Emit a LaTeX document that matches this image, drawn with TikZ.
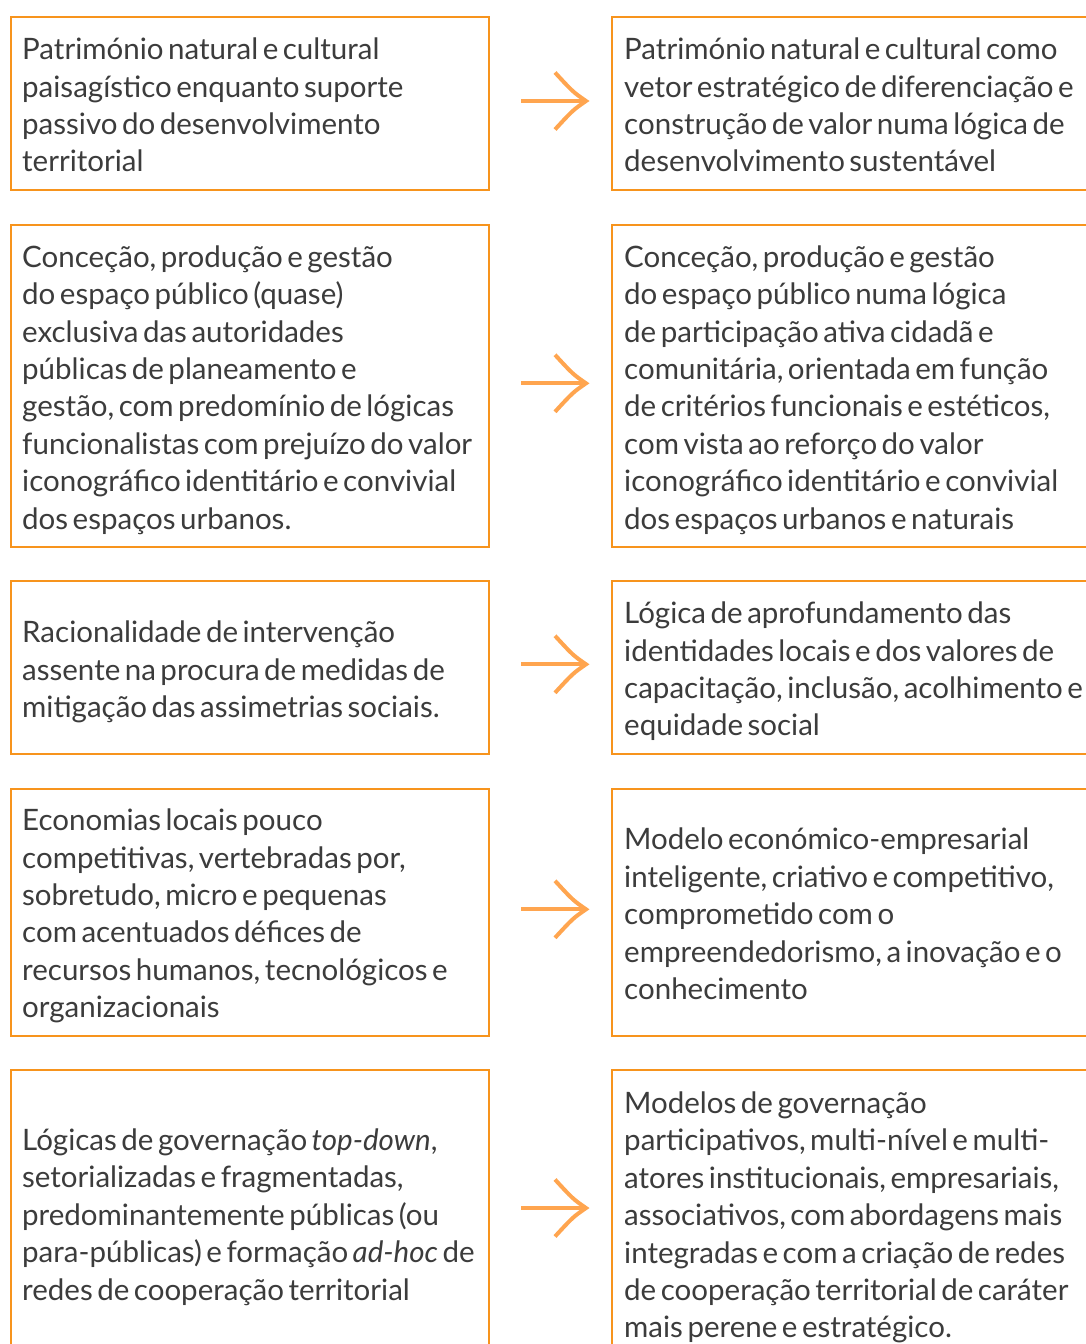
\documentclass[tikz,border=0pt]{standalone}
\usepackage{fontspec}
\setmainfont{Lato}[WordSpace=0.6]
\usetikzlibrary{calc}
\definecolor{frameorange}{HTML}{F7941D}
\definecolor{arroworange}{HTML}{FFA54F}
\definecolor{bodytext}{HTML}{3C3C3C}
\begin{document}
\begin{tikzpicture}[x=1pt,y=-1pt,
  box/.style={draw=frameorange, line width=2pt, rectangle, inner sep=0pt, outer sep=0pt, anchor=north west},
  txt/.style={anchor=west, align=left, inner sep=0pt, text=bodytext,
    font=\fontsize{29.5}{37.4}\selectfont},
  arrowline/.style={draw=arroworange, line width=4pt},
  barbs/.pic={\draw[arrowline] (-31,-28.5) .. controls (-13,-9) .. (0,0) .. controls (-13,9) .. (-31,28.5);}
]
\clip (0,0) rectangle (1086,1344);
\fill[white] (0,0) rectangle (1086,1344);

% boxes of the left and right columns
\node[box, minimum width=478pt, minimum height=173pt] (l1) at (11,17) {};
\node[box, minimum width=500pt, minimum height=173pt] (r1) at (612,17) {};
\node[box, minimum width=478pt, minimum height=322pt] (l2) at (11,225) {};
\node[box, minimum width=500pt, minimum height=322pt] (r2) at (612,225) {};
\node[box, minimum width=478pt, minimum height=173pt] (l3) at (11,581) {};
\node[box, minimum width=500pt, minimum height=173pt] (r3) at (612,581) {};
\node[box, minimum width=478pt, minimum height=247pt] (l4) at (11,789) {};
\node[box, minimum width=500pt, minimum height=247pt] (r4) at (612,789) {};
\node[box, minimum width=478pt, minimum height=290pt] (l5) at (11,1070) {};
\node[box, minimum width=500pt, minimum height=290pt] (r5) at (612,1070) {};

% texts
\node[txt] (t1l) at (22,105) {Património natural e cultural\\paisagístico enquanto suporte\\passivo do desenvolvimento\\territorial};
\node[txt] (t1r) at (624,105) {Património natural e cultural como\\vetor estratégico de diferenciação e\\construção de valor numa lógica de\\desenvolvimento sustentável};

\node[txt] (t2l) at (22,390) {Conceção, produção e gestão\\do espaço público (quase)\\exclusiva das autoridades\\públicas de planeamento e\\gestão, com predomínio de lógicas\\funcionalistas com prejuízo do valor\\iconográfico identitário e convivial\\dos espaços urbanos.};
\node[txt] (t2r) at (624,390) {Conceção, produção e gestão\\do espaço público numa lógica\\de participação ativa cidadã e\\comunitária, orientada em função\\de critérios funcionais e estéticos,\\com vista ao reforço do valor\\iconográfico identitário e convivial\\dos espaços urbanos e naturais};

\node[txt] (t3l) at (22,672) {Racionalidade de intervenção\\assente na procura de medidas de\\mitigação das assimetrias sociais.};
\node[txt] (t3r) at (624,671.5) {Lógica de aprofundamento das\\identidades locais e dos valores de\\capacitação, inclusão, acolhimento e\\equidade social};

\node[txt] (t4l) at (22,916) {Economias locais pouco\\competitivas, vertebradas por,\\sobretudo, micro e pequenas\\com acentuados défices de\\recursos humanos, tecnológicos e\\organizacionais};
\node[txt] (t4r) at (624,914) {Modelo económico-empresarial\\inteligente, criativo e competitivo,\\comprometido com o\\empreendedorismo, a inovação e o\\conhecimento};

\node[txt] (t5l) at (22,1217) {Lógicas de governação \textit{top-down},\\setorializadas e fragmentadas,\\predominantemente públicas (ou\\para-públicas) e formação \textit{ad-hoc} de\\redes de cooperação territorial};
\node[txt] (t5r) at (624,1217.5) {Modelos de governação\\participativos, multi-nível e multi-\\atores institucionais, empresariais,\\associativos, com abordagens mais\\integradas e com a criação de redes\\de cooperação territorial de caráter\\mais perene e estratégico.};

% arrows between the columns
\draw[arrowline] ([xshift=32pt,yshift=2.5pt]l1.east) -- ([xshift=-26pt,yshift=2.5pt]r1.west) pic{barbs};
\draw[arrowline] ([xshift=32pt,yshift=2.7pt]l2.east) -- ([xshift=-26pt,yshift=2.7pt]r2.west) pic{barbs};
\draw[arrowline] ([xshift=32pt,yshift=3.2pt]l3.east) -- ([xshift=-26pt,yshift=3.2pt]r3.west) pic{barbs};
\draw[arrowline] ([xshift=32pt,yshift=3.2pt]l4.east) -- ([xshift=-26pt,yshift=3.2pt]r4.west) pic{barbs};
\draw[arrowline] ([xshift=32pt,yshift=7pt]l5.east) -- ([xshift=-26pt,yshift=7pt]r5.west) pic{barbs};
\end{tikzpicture}
\end{document}
